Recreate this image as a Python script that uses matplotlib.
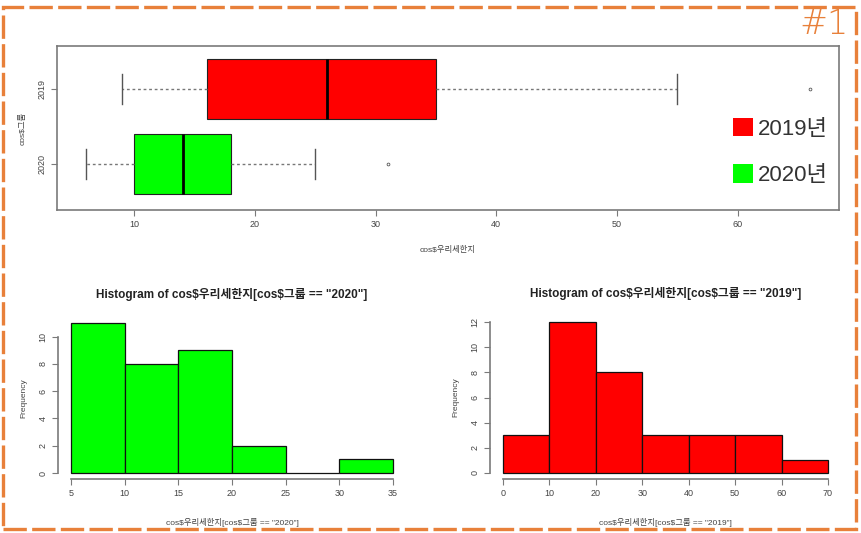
import matplotlib
matplotlib.use("Agg")
import matplotlib.pyplot as plt
from matplotlib.patches import Patch, Rectangle

plt.rcParams['font.family'] = ['Liberation Sans', 'Noto Sans CJK KR']
plt.rcParams['text.parse_math'] = False

# box stats
groups = ["2020", "2019"]
box_colors = ["#00ff00", "#ff0000"]
whis_lo = [6, 9]
q1 = [10, 16]
med = [14, 26]
q3 = [18, 35]
whis_hi = [25, 55]
outliers = [[31], [66]]

# histograms
edges_2020 = [5, 10, 15, 20, 25, 30, 35]
counts_2020 = [11, 8, 9, 2, 0, 1]
edges_2019 = [0, 10, 20, 30, 40, 50, 60, 70]
counts_2019 = [3, 12, 8, 3, 3, 3, 1]

var_name = "cos$우리세한지"
grp_name = "cos$그룹"

W, H = 861, 533
fig = plt.figure(figsize=(W / 100, H / 100), dpi=100)

def rect(l, t, r, b):
    return [l / W, 1 - b / H, (r - l) / W, (b - t) / H]

axcol = "#7a7a7a"
txtcol = "#444444"

# ---- top: horizontal boxplot
ax = fig.add_axes(rect(57, 46, 839, 210))
stats = []
for i in range(len(groups)):
    stats.append(dict(whislo=whis_lo[i], q1=q1[i], med=med[i], q3=q3[i],
                      whishi=whis_hi[i], fliers=outliers[i]))
bp = ax.bxp(stats, positions=[1, 2], widths=0.8, vert=False, patch_artist=True,
            boxprops=dict(edgecolor="#222222", linewidth=0.8),
            medianprops=dict(color="black", linewidth=2),
            whiskerprops=dict(color="#777777", linestyle=(0, (2, 2)), linewidth=1),
            capprops=dict(color="#555555", linewidth=1),
            flierprops=dict(marker="o", markersize=2, markerfacecolor="none",
                            markeredgecolor="#555555", markeredgewidth=0.6),
            capwidths=0.4)
for patch, c in zip(bp['boxes'], box_colors):
    patch.set_facecolor(c)
ax.set_xlim(3.6, 68.4)
ax.set_ylim(0.39, 2.57)
ax.set_xticks([10, 20, 30, 40, 50, 60])
ax.set_yticks([1, 2])
ax.set_yticklabels(groups, rotation=90, va="center")
for s in ax.spines.values():
    s.set_color(axcol)
    s.set_linewidth(1.2)
ax.tick_params(colors=axcol, labelcolor=txtcol, labelsize=6.5, length=4, width=0.8)
ax.set_xlabel(var_name, fontsize=6, color=txtcol, labelpad=12)
ax.set_ylabel(grp_name, fontsize=6, color=txtcol, labelpad=8)
ax.legend(handles=[Patch(facecolor=box_colors[1], edgecolor="none", label="2019년"),
                   Patch(facecolor=box_colors[0], edgecolor="none", label="2020년")],
          loc="center left", bbox_to_anchor=(722 / W, 1 - 152 / H),
          bbox_transform=fig.transFigure, frameon=False, fontsize=16,
          handlelength=0.9, handleheight=0.9, handletextpad=0.2,
          labelspacing=1.1, borderpad=0, labelcolor="#333333")

# ---- bottom histograms
def hist_panel(r, edges, counts, color, year, ymax_tick):
    a = fig.add_axes(r)
    widths = [edges[i + 1] - edges[i] for i in range(len(counts))]
    a.bar(edges[:-1], counts, width=widths, align="edge", color=color,
          edgecolor="#111111", linewidth=0.9)
    span = edges[-1] - edges[0]
    top = max(counts)
    a.set_xlim(edges[0] - 0.04 * span, edges[-1] + 0.04 * span)
    a.set_ylim(-0.04 * top, top * 1.04)
    for k in ["top", "right"]:
        a.spines[k].set_visible(False)
    a.spines["left"].set_bounds(0, ymax_tick)
    a.spines["bottom"].set_bounds(edges[0], edges[-1])
    for k in ["left", "bottom"]:
        a.spines[k].set_color(axcol)
        a.spines[k].set_linewidth(1.2)
    a.spines["bottom"].set_position(("data", -0.04 * top))
    a.set_xticks(edges)
    a.set_yticks(range(0, ymax_tick + 1, 2))
    a.set_yticklabels([str(v) for v in range(0, ymax_tick + 1, 2)], rotation=90, va="center")
    a.tick_params(colors=axcol, labelcolor=txtcol, labelsize=6.5, length=4, width=0.8)
    a.set_title('Histogram of %s[%s == "%s"]' % (var_name, grp_name, year),
                fontsize=8.5, fontweight="bold", color="#222222", pad=14)
    a.set_xlabel('%s[%s == "%s"]' % (var_name, grp_name, year), fontsize=6,
                 color=txtcol, labelpad=14)
    a.set_ylabel("Frequency", fontsize=6, color=txtcol, labelpad=8)
    return a

hist_panel(rect(58, 317, 406, 479), edges_2020, counts_2020, "#00ff00", "2020", 10)
hist_panel(rect(490, 316, 841, 479), edges_2019, counts_2019, "#ff0000", "2019", 12)

# orange dashed frame and tag
orange = "#e8803a"
fig.patches.append(Rectangle((3 / W, 4 / H), (856 - 3) / W, (530 - 8) / H,
                             transform=fig.transFigure, fill=False,
                             edgecolor=orange, linewidth=2.4,
                             linestyle=(0, (7, 1.6))))
fig.text(849 / W, 1 - 8 / H, "#1", ha="right", va="top", fontsize=24,
         color=orange, family="DejaVu Sans", fontweight="light")

fig.savefig("out.png", dpi=100)
